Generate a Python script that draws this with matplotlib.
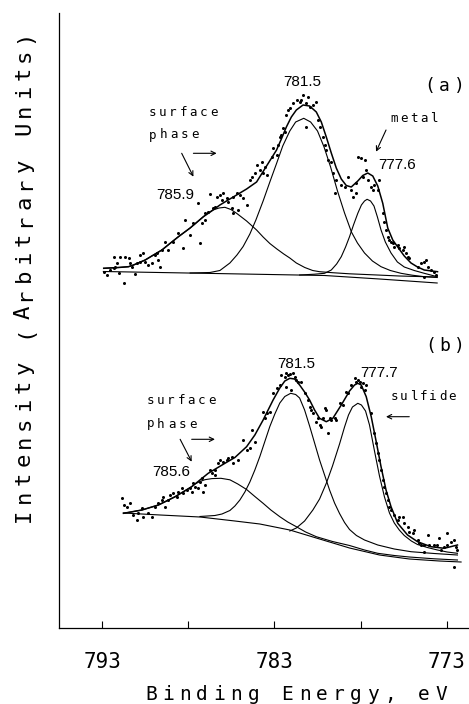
import numpy as np
import matplotlib
matplotlib.use("Agg")
import matplotlib.pyplot as plt

MONO = "DejaVu Sans Mono"
NUM = ["Liberation Sans Narrow", "Liberation Sans"]

# ---------------- panel (a): metal + surface phase ----------------
env_a_E = [792.92, 792.06, 791.48, 791.19, 790.51, 790.03, 789.54, 789.06, 788.58, 787.90,
           787.13, 786.65, 786.17, 785.69, 785.20, 784.62, 784.04, 783.75, 783.46, 783.17,
           782.88, 782.60, 782.31, 782.02, 781.73, 781.34, 780.96, 780.57, 780.28, 779.99,
           779.70, 779.41, 779.12, 778.83, 778.54, 778.16, 777.87, 777.58, 777.29, 777.00,
           776.71, 776.42, 776.13, 775.84, 775.46, 775.07, 774.69, 774.30, 773.53]
env_a_I = [14.7, 15.5, 16.3, 18.0, 23.0, 28.0, 33.0, 39.7, 46.3, 55.0,
           66.3, 72.0, 78.0, 83.0, 88.0, 94.0, 101.0, 109.0, 117.0, 125.0,
           133.0, 144.0, 156.0, 166.0, 173.0, 178.0, 177.0, 171.0, 161.0, 146.0,
           130.0, 115.0, 104.0, 97.5, 96.0, 102.0, 107.5, 110.0, 107.0, 97.0,
           79.7, 55.0, 43.0, 36.0, 27.0, 20.0, 16.0, 13.0, 11.3]

c1_a_E = [792.92, 792.06, 791.48, 791.19, 790.51, 790.03, 789.54, 789.06, 788.58, 787.90,
          787.13, 786.86, 786.57, 786.22, 785.88, 785.53, 785.20, 784.62, 784.04, 783.66,
          783.27, 782.86, 782.46, 782.11, 781.73, 781.24, 780.78, 780.38, 779.63, 778.64,
          777.04, 775.75, 773.55]
c1_a_I = [14.7, 15.5, 16.3, 18.0, 23.0, 28.0, 33.0, 39.7, 46.3, 55.0,
          66.3, 70.0, 73.0, 75.0, 75.7, 73.5, 69.7, 62.0, 53.0, 46.0,
          39.5, 34.0, 29.0, 25.0, 20.0, 15.5, 12.5, 11.3, 10.3, 9.2,
          8.0, 7.0, 6.0]

c2_a_E = [787.90, 786.75, 786.17, 785.59, 785.18, 784.82, 784.43, 784.08, 783.66, 783.27,
          782.88, 782.52, 782.11, 781.77, 781.30, 780.90, 780.50, 780.12, 779.74, 779.34,
          778.93, 778.53, 778.18, 777.77, 777.31, 776.81, 776.27, 775.65, 775.00, 774.30,
          773.55]
c2_a_I = [10.0, 10.5, 12.5, 20.0, 28.0, 36.5, 49.0, 63.0, 82.0, 101.0,
          119.5, 137.0, 152.0, 161.0, 164.7, 161.0, 152.0, 136.0, 116.0, 92.0,
          70.0, 51.0, 40.0, 30.0, 22.0, 16.3, 12.5, 9.7, 7.8, 6.3,
          5.5]

c3_a_E = [781.54, 780.67, 780.09, 779.70, 779.39, 779.12, 778.87, 778.64, 778.41, 778.16,
          777.95, 777.77, 777.62, 777.42, 777.22, 777.02, 776.81, 776.56, 776.23, 775.86,
          775.46, 774.88, 774.30, 773.55]
c3_a_I = [8.0, 8.8, 9.7, 13.0, 19.0, 26.3, 36.0, 46.3, 58.0, 69.7,
          78.0, 82.0, 83.7, 82.0, 77.0, 66.0, 53.0, 41.0, 30.0, 21.0,
          16.0, 12.5, 9.7, 6.3]

bg_a_E = [792.94, 786.46, 780.09, 776.90, 773.55]
bg_a_I = [11.5, 9.5, 7.5, 4.0, 0.0]

pts_a_E = [792.92, 792.73, 792.54, 792.35, 792.35, 792.25, 792.15, 792.06, 791.96, 791.77,
           791.67, 791.48, 791.38, 791.28, 791.13, 790.99, 790.80, 790.80, 790.61, 790.51,
           790.32, 790.12, 789.93, 789.83, 789.74, 789.64, 789.54, 789.35, 789.16, 788.87,
           788.58, 788.29, 788.19, 787.90, 787.71, 787.42, 787.33, 787.23, 787.04, 787.04,
           786.85, 786.75, 786.56, 786.46, 786.36, 786.17, 786.07, 785.98, 785.78, 785.69,
           785.49, 785.40, 785.40, 785.20, 785.11, 785.01, 784.82, 784.62, 784.43, 784.33,
           784.14, 784.04, 783.85, 783.75, 783.66, 783.56, 783.46, 783.17, 783.08, 782.88,
           782.79, 782.69, 782.60, 782.50, 782.40, 782.31, 782.21, 782.11, 781.92, 781.69,
           781.54, 781.44, 781.34, 781.15, 781.15, 781.06, 780.96, 780.77, 780.57, 780.48,
           780.38, 780.19, 780.09, 779.99, 779.90, 779.70, 779.61, 779.51, 779.41, 779.12,
           778.93, 778.74, 778.54, 778.45, 778.25, 778.25, 778.16, 777.96, 777.87, 777.77,
           777.67, 777.58, 777.38, 777.29, 777.19, 777.00, 776.90, 776.71, 776.61, 776.52,
           776.42, 776.32, 776.23, 776.13, 776.04, 775.84, 775.75, 775.55, 775.46, 775.36,
           775.27, 775.17, 774.69, 774.49, 774.30, 774.30, 774.20, 774.11, 773.91, 773.72,
           773.62]
pts_a_I = [11.3, 8.0, 13.0, 14.7, 26.3, 16.3, 19.7, 10.3, 26.3, 0.3,
           26.3, 24.7, 19.7, 16.3, 9.0, 19.7, 21.3, 28.0, 29.7, 21.3,
           18.0, 19.7, 28.0, 29.7, 23.0, 16.3, 33.0, 41.3, 33.0, 41.3,
           49.7, 34.7, 63.0, 48.0, 59.7, 79.7, 39.7, 59.7, 69.7, 63.0,
           71.3, 89.0, 74.7, 76.3, 86.3, 88.0, 83.0, 89.7, 84.7, 81.3,
           74.7, 69.7, 86.3, 89.7, 73.0, 88.0, 84.7, 78.0, 103.0, 106.3,
           109.7, 118.0, 113.0, 121.3, 109.7, 116.3, 108.0, 126.3, 134.7, 128.0,
           138.0, 146.3, 148.0, 154.7, 151.3, 168.0, 173.0, 174.7, 179.7, 183.0,
           181.3, 183.0, 188.0, 179.7, 156.3, 186.3, 176.3, 178.0, 181.3, 163.0,
           156.3, 146.3, 138.0, 133.0, 123.0, 121.3, 109.7, 89.7, 103.0, 98.0,
           96.3, 106.3, 93.0, 86.3, 99.7, 89.7, 126.3, 124.7, 106.3, 123.0,
           113.0, 103.0, 96.3, 93.0, 98.0, 93.0, 103.0, 69.7, 61.3, 53.0,
           46.3, 43.0, 41.3, 39.7, 36.3, 38.0, 34.7, 33.0, 36.3, 29.7,
           26.3, 24.7, 16.3, 19.7, 21.3, 6.3, 23.0, 16.3, 13.0, 11.3,
           8.0]

# ---------------- panel (b): sulfide + surface phase ----------------
env_b_E = [791.77, 790.70, 789.74, 788.77, 787.81, 786.85, 785.88, 785.30, 784.62, 784.14,
           783.66, 783.08, 782.69, 782.40, 782.11, 781.83, 781.54, 781.25, 780.96, 780.67,
           780.38, 779.99, 779.61, 779.12, 778.64, 778.35, 778.16, 777.96, 777.67, 777.38,
           777.09, 776.81, 776.52, 776.23, 775.84, 775.27, 774.69, 773.91, 773.14, 772.37]
env_b_I = [51.7, 55.0, 60.0, 68.3, 78.3, 91.7, 101.7, 107.5, 118.3, 130.0,
           145.0, 165.0, 177.0, 184.0, 186.7, 186.0, 180.0, 173.0, 165.0, 155.0,
           146.7, 143.3, 146.7, 160.0, 174.0, 180.0, 181.7, 180.0, 168.3, 148.3,
           123.3, 98.3, 75.0, 58.3, 41.7, 30.0, 23.3, 18.3, 16.7, 20.0]

c1_b_E = [791.77, 790.70, 789.74, 788.77, 787.81, 787.62, 787.33, 787.04, 786.63, 786.11,
          785.59, 785.13, 784.62, 784.14, 783.66, 783.21, 782.69, 782.23, 781.73, 781.19,
          780.57, 779.63, 778.64, 777.77, 777.00, 776.04, 775.17, 773.72, 772.37]
c1_b_I = [51.7, 55.0, 60.0, 68.3, 78.3, 81.0, 83.5, 85.3, 86.4, 86.7,
          85.2, 81.0, 75.5, 68.5, 61.7, 55.0, 48.3, 43.0, 38.3, 33.0,
          28.3, 23.5, 19.5, 15.0, 11.7, 9.5, 8.0, 6.2, 5.0]

c2_b_E = [787.33, 786.46, 786.05, 785.59, 785.30, 785.01, 784.72, 784.43, 784.14, 783.85,
          783.56, 783.27, 782.98, 782.69, 782.40, 782.06, 781.77, 781.54, 781.25, 780.96,
          780.67, 780.38, 780.09, 779.80, 779.51, 779.22, 778.93, 778.64, 778.24, 777.77,
          777.00, 776.04, 775.07, 773.72, 772.37]
c2_b_I = [48.5, 49.5, 51.0, 54.5, 59.0, 65.0, 73.0, 83.0, 95.0, 108.5,
          123.5, 138.5, 151.0, 162.0, 168.5, 171.7, 170.5, 167.0, 155.0, 139.0,
          122.0, 105.0, 90.0, 75.0, 62.0, 51.5, 42.5, 35.5, 29.5, 25.0,
          20.0, 16.0, 13.3, 11.5, 10.0]

c3_b_E = [782.11, 781.73, 781.25, 780.77, 780.38, 779.99, 779.63, 779.22, 778.93, 778.70,
          778.47, 778.16, 777.95, 777.71, 777.48, 777.19, 776.90, 776.61, 776.32, 776.04,
          775.75, 775.46, 775.05, 774.69, 774.12, 773.53, 772.97, 772.37]
c3_b_I = [34.0, 37.0, 44.0, 55.0, 66.0, 81.7, 99.0, 121.0, 138.0, 150.0,
          158.0, 161.7, 160.0, 154.0, 140.0, 114.0, 89.0, 68.0, 52.0, 42.0,
          35.0, 29.5, 24.0, 20.5, 17.5, 15.0, 13.0, 11.7]

bg_b_E = [791.78, 789.64, 787.33, 785.30, 783.85, 782.11, 780.38, 778.64, 776.90, 775.17,
          773.43, 772.16]
bg_b_I = [52.0, 50.0, 48.0, 44.0, 41.0, 35.0, 26.0, 17.0, 10.0, 6.0, 4.0, 3.0]

pts_b_E = [791.86, 791.77, 791.57, 791.38, 791.19, 790.99, 790.90, 790.70, 790.61, 790.32,
           790.12, 789.93, 789.74, 789.54, 789.45, 789.35, 789.16, 789.06, 788.87, 788.68,
           788.58, 788.39, 788.29, 788.10, 787.90, 787.81, 787.71, 787.62, 787.42, 787.33,
           787.23, 787.13, 787.04, 786.75, 786.65, 786.46, 786.46, 786.27, 786.17, 785.98,
           785.78, 785.69, 785.49, 785.40, 785.11, 784.82, 784.62, 784.43, 784.33, 784.14,
           783.66, 783.56, 783.46, 783.27, 783.08, 782.88, 782.69, 782.60, 782.40, 782.31,
           782.31, 782.21, 782.11, 782.02, 781.92, 781.83, 781.73, 781.63, 781.44, 781.25,
           781.06, 780.96, 780.86, 780.77, 780.57, 780.48, 780.38, 780.28, 780.19, 780.09,
           779.99, 779.90, 779.80, 779.70, 779.51, 779.41, 779.22, 779.03, 778.83, 778.74,
           778.54, 778.35, 778.25, 778.16, 778.06, 777.96, 777.87, 777.77, 777.67, 777.38,
           777.19, 777.10, 777.00, 776.90, 776.81, 776.71, 776.61, 776.52, 776.42, 776.32,
           776.23, 776.04, 775.84, 775.75, 775.55, 775.46, 775.27, 775.17, 774.98, 774.88,
           774.69, 774.59, 774.49, 774.30, 774.30, 774.11, 774.01, 773.72, 773.53, 773.43,
           773.33, 773.14, 772.95, 772.95, 772.75, 772.56, 772.56, 772.46, 772.37]
pts_b_I = [66.7, 60.0, 58.3, 61.7, 50.0, 45.0, 51.7, 56.7, 48.3, 51.7,
           48.3, 58.3, 61.7, 65.0, 68.3, 58.3, 65.0, 70.0, 71.7, 68.3,
           73.3, 76.7, 71.7, 75.0, 76.7, 73.3, 81.7, 78.3, 76.7, 83.3,
           86.7, 73.3, 80.0, 95.0, 91.7, 95.0, 90.0, 101.7, 105.0, 103.3,
           105.0, 106.7, 108.3, 101.7, 105.0, 125.0, 115.0, 116.7, 135.0, 123.3,
           153.3, 146.7, 151.7, 153.3, 171.7, 176.7, 180.0, 190.0, 188.3, 191.7,
           178.3, 190.0, 191.0, 175.0, 191.7, 188.3, 185.0, 183.3, 183.3, 171.7,
           165.0, 158.3, 155.0, 151.7, 143.3, 146.7, 140.0, 138.3, 146.7, 156.7,
           155.0, 131.7, 146.7, 145.0, 146.7, 145.0, 161.7, 160.0, 173.3, 171.7,
           180.0, 186.7, 183.3, 185.0, 183.3, 178.3, 181.7, 175.0, 180.0, 151.7,
           131.7, 121.7, 111.7, 105.0, 95.0, 85.0, 78.3, 71.7, 65.0, 58.3,
           55.0, 50.0, 45.0, 48.3, 48.3, 41.7, 38.3, 33.3, 31.7, 35.0,
           25.0, 21.7, 20.0, 20.0, 13.3, 30.0, 20.0, 20.0, 20.0, 26.7,
           15.0, 18.3, 20.0, 31.7, 23.3, 25.0, -1.7, 18.3, 15.0]

# vertical offsets of the two stacked spectra
off_a = 345
off_b = 63

ticks = [793, 788, 783, 778, 773]
tick_labels = ["793", "", "783", "", "773"]

fig = plt.figure(figsize=(4.69, 7.04), dpi=100)
ax = fig.add_axes([59.3 / 469, 76 / 704, 409.7 / 469, 615 / 704])


def spaced(s, xy, step, size, coords="data", vertical=False):
    # typewriter-like lettering: one glyph at a time, evenly spaced
    for i, ch in enumerate(s):
        if ch == " ":
            continue
        off = (0, i * step) if vertical else (i * step, 0)
        ax.annotate(ch, xy=xy, xycoords=coords, xytext=off, textcoords="offset pixels",
                    ha="center", va="baseline", rotation=90 if vertical else 0,
                    rotation_mode="anchor", fontsize=size, family=MONO,
                    annotation_clip=False)


def arrow(tail, head):
    ax.annotate("", xy=head, xytext=tail,
                arrowprops=dict(arrowstyle="->", lw=0.8, color="black",
                                shrinkA=0, shrinkB=0, mutation_scale=8))


for off, env, comps, bg, pts in [
    (off_a, (env_a_E, env_a_I),
     [(c1_a_E, c1_a_I), (c2_a_E, c2_a_I), (c3_a_E, c3_a_I)],
     (bg_a_E, bg_a_I), (pts_a_E, pts_a_I)),
    (off_b, (env_b_E, env_b_I),
     [(c1_b_E, c1_b_I), (c2_b_E, c2_b_I), (c3_b_E, c3_b_I)],
     (bg_b_E, bg_b_I), (pts_b_E, pts_b_I)),
]:
    ax.plot(bg[0], np.array(bg[1]) + off, color="black", lw=0.8)
    for ce, ci in comps:
        ax.plot(ce, np.array(ci) + off, color="black", lw=0.8)
    ax.plot(env[0], np.array(env[1]) + off, color="black", lw=1.1)
    ax.plot(pts[0], np.array(pts[1]) + off, "o", color="black", ms=2.2, mew=0)

ax.set_xlim(795.5, 771.7)
ax.set_ylim(0, 615)
ax.set_xticks(ticks)
ax.set_xticklabels(tick_labels, family=MONO, fontsize=15)
ax.set_yticks([])
ax.tick_params(axis="x", direction="in", length=5, width=0.8, pad=17)
for side in ["top", "right"]:
    ax.spines[side].set_visible(False)
ax.spines["left"].set_linewidth(0.9)
ax.spines["bottom"].set_linewidth(0.9)

# panel (a) annotations
spaced("(a)", (774.0, 537), 15, 13)
ax.text(781.36, 546, "781.5", ha="center", va="center", fontsize=11, family=NUM)
ax.text(788.77, 433, "785.9", ha="center", va="center", fontsize=11, family=NUM)
ax.text(775.89, 463, "777.6", ha="center", va="center", fontsize=11, family=NUM)
spaced("surface", (790.10, 512.5), 10.3, 9)
spaced("phase", (790.10, 489.5), 10.8, 9)
arrow((787.71, 474.7), (786.36, 474.7))
arrow((788.39, 474.7), (787.71, 451.3))
spaced("metal", (776.04, 506.5), 10, 9)
arrow((776.52, 498), (777.10, 476.3))

# panel (b) annotations
spaced("(b)", (773.91, 277), 14, 13)
ax.text(781.73, 264, "781.5", ha="center", va="center", fontsize=11, family=NUM)
ax.text(776.90, 254.7, "777.7", ha="center", va="center", fontsize=11, family=NUM)
ax.text(789.0, 156.3, "785.6", ha="center", va="center", fontsize=11, family=NUM)
spaced("surface", (790.22, 224.5), 10.3, 9)
spaced("phase", (790.22, 200.5), 10.8, 9)
arrow((787.81, 188.7), (786.46, 188.7))
arrow((788.48, 188.7), (787.81, 166.3))
spaced("sulfide", (776.04, 227.5), 9.7, 9)
arrow((775.17, 211.3), (776.52, 211.3))

# axis titles, spaced out like the plotter lettering
spaced("Intensity (Arbitrary Units)", (30, 189), 18.4, 16, coords="figure pixels",
       vertical=True)
spaced("Binding Energy, eV", (151, 4), 17.06, 14, coords="figure pixels")

fig.savefig("out.png", dpi=100)
